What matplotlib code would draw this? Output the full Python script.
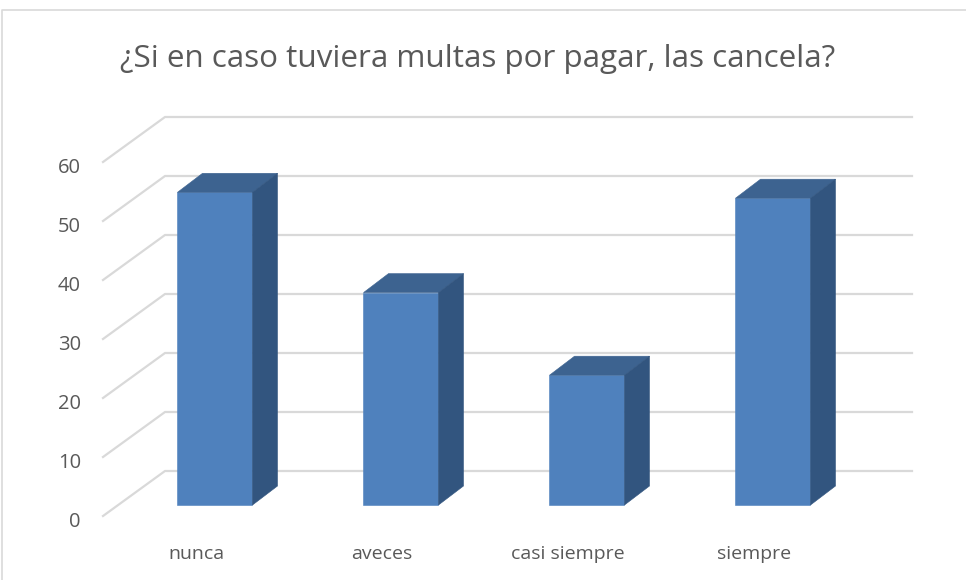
import matplotlib
matplotlib.use("Agg")
import matplotlib.pyplot as plt
from matplotlib.patches import Polygon

categories = ["nunca", "aveces", "casi siempre", "siempre"]
values = [53, 36, 22, 52]
y_ticks = [0, 10, 20, 30, 40, 50, 60]
title = "¿Si en caso tuviera multas por pagar, las cancela?"

plt.rcParams["font.family"] = ["Open Sans", "DejaVu Sans"]

# pixels per unit on the value axis / per category
PX_Y = 5.9
PX_X = 186.0
BASE_PX = 505.0
FIRST_PX = 215.0
W, H = 966, 580

FRONT = "#4f81bd"
TOP = "#3d6390"
SIDE = "#32557f"
GRID = "#d9d9d9"
TEXT = "#595959"

fig = plt.figure(figsize=(W / 100, H / 100), dpi=100)
ax = fig.add_axes([0, 0, 1, 1])
ax.set_xlim(-FIRST_PX / PX_X, (W - FIRST_PX) / PX_X)
ax.set_ylim(-(H - BASE_PX) / PX_Y, BASE_PX / PX_Y)
ax.axis("off")

px = lambda n: n / PX_X
py = lambda n: n / PX_Y

# chart frame
ax.plot([px(2 - FIRST_PX), px(2 - FIRST_PX), px(W - FIRST_PX)],
        [py(BASE_PX - H), py(BASE_PX - 10), py(BASE_PX - 10)],
        color=GRID, lw=1.2, zorder=1)

# floor offset of the front axis and the back wall
front_x, front_y = px(103 - FIRST_PX), py(BASE_PX - 516)
wall_x, wall_y = px(165 - FIRST_PX), py(BASE_PX - 471)
wall_end = px(912 - FIRST_PX)
label_y = py(BASE_PX - 522)

for t in y_ticks:
    ax.plot([front_x, wall_x, wall_end], [front_y + t, wall_y + t, wall_y + t],
            color=GRID, lw=1.6, zorder=1, solid_joinstyle="miter")
    ax.text(px(81 - FIRST_PX), label_y + t, str(t), ha="right", va="center",
            fontsize=14.5, color=TEXT)

half = px(37.5)
dx, dy = px(25), py(19)
for i, (c, v) in enumerate(zip(categories, values)):
    l, r = i - half, i + half
    ax.add_patch(Polygon([(l, 0), (r, 0), (r, v), (l, v)], fc=FRONT, ec=FRONT, lw=0.4, zorder=3))
    ax.add_patch(Polygon([(l, v), (r, v), (r + dx, v + dy), (l + dx, v + dy)],
                         fc=TOP, ec=TOP, lw=0.4, zorder=3))
    ax.add_patch(Polygon([(r, 0), (r + dx, dy), (r + dx, v + dy), (r, v)],
                         fc=SIDE, ec=SIDE, lw=0.4, zorder=3))
    ax.text(i - px(19), py(BASE_PX - 554), c, ha="center", va="center",
            fontsize=14, color=TEXT)

ax.text(px(478 - FIRST_PX), py(BASE_PX - 59), title, ha="center", va="center",
        fontsize=22.6, color=TEXT)

fig.savefig("out.png", dpi=100)
